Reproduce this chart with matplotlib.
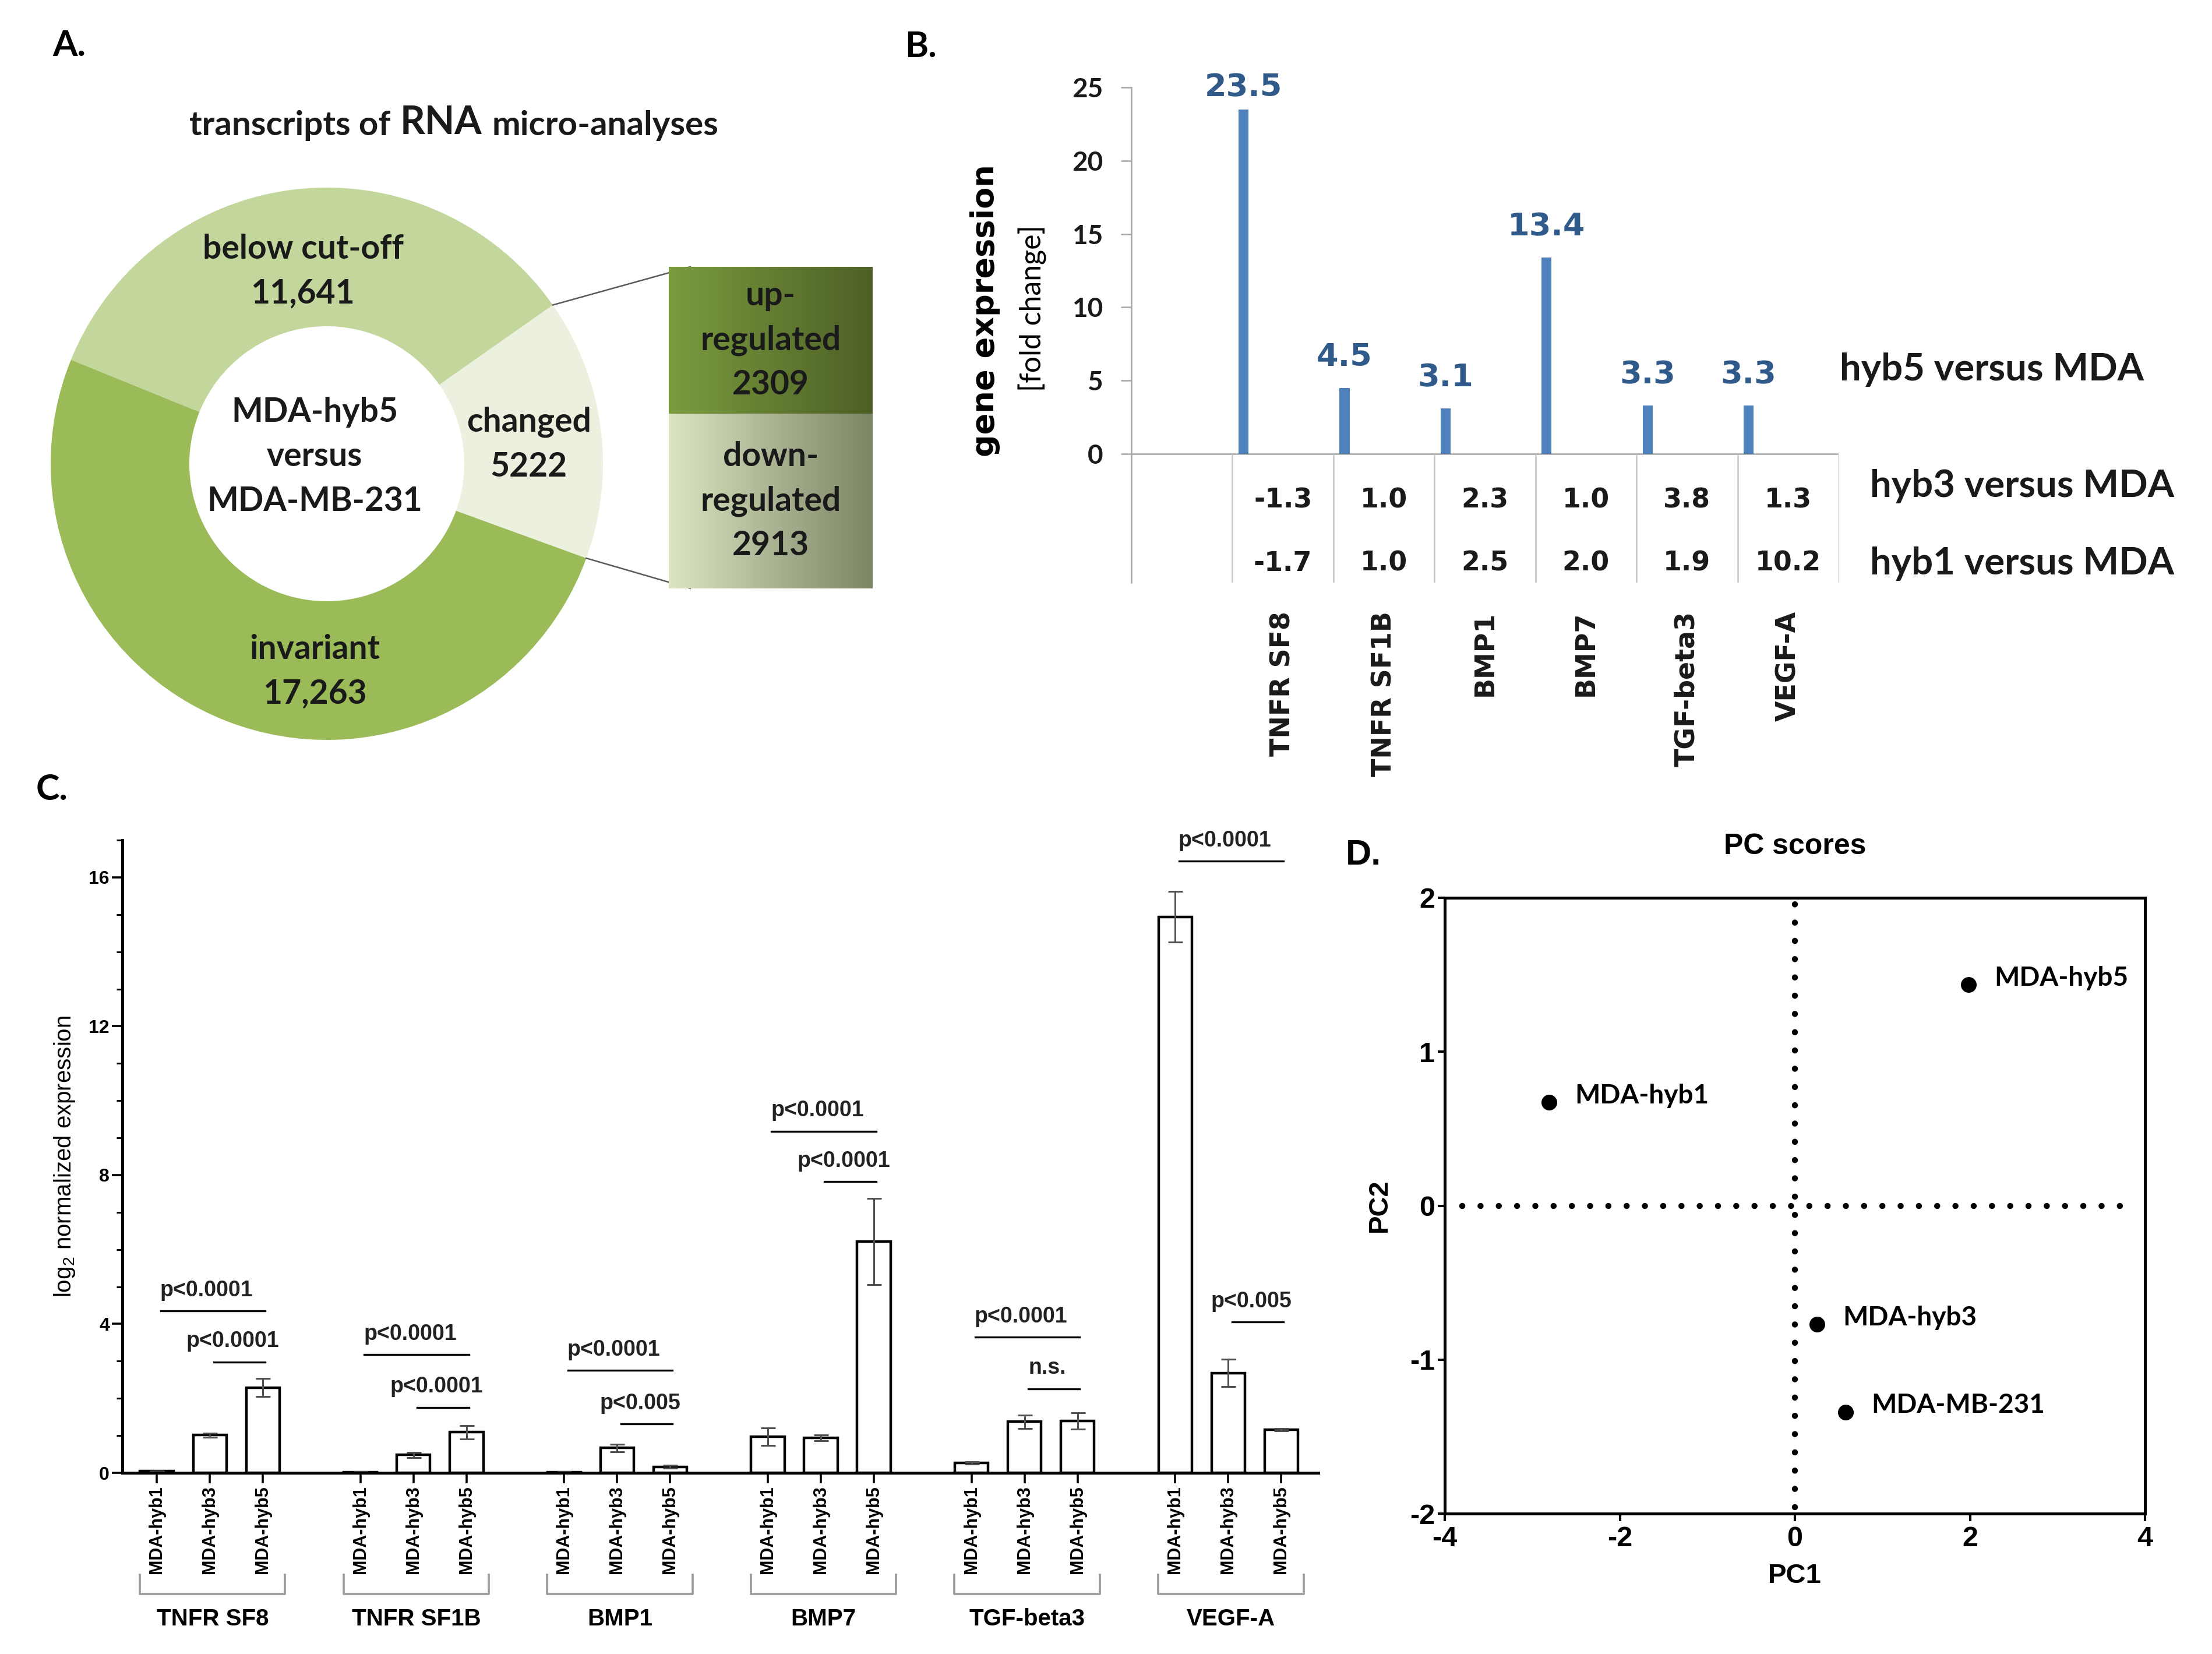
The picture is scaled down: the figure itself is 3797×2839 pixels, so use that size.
import numpy as np
import matplotlib.pyplot as plt
from matplotlib.ticker import MultipleLocator

plt.rcParams['font.family'] = 'Liberation Sans'
plt.rcParams['mathtext.fontset'] = 'custom'
plt.rcParams['mathtext.rm'] = 'Liberation Sans'

# ---------------- data ----------------
# A. donut of transcripts
donut_labels = ['changed', 'below cut-off', 'invariant']
donut_counts = [5222, 11641, 17263]
donut_colors = ['#ebf1de', '#c3d69b', '#9bbb59']
split_labels = ['up-\nregulated', 'down-\nregulated']
split_counts = [2309, 2913]
center_label = 'MDA-hyb5\nversus\nMDA-MB-231'

# B. fold change
genes = ['TNFR SF8', 'TNFR SF1B', 'BMP1', 'BMP7', 'TGF-beta3', 'VEGF-A']
fold_hyb5 = [23.5, 4.5, 3.1, 13.4, 3.3, 3.3]
fold_hyb3 = [-1.3, 1.0, 2.3, 1.0, 3.8, 1.3]
fold_hyb1 = [-1.7, 1.0, 2.5, 2.0, 1.9, 10.2]
row_names = ['hyb5 versus MDA', 'hyb3 versus MDA', 'hyb1 versus MDA']

# C. log2 normalized expression
cell_lines = ['MDA-hyb1', 'MDA-hyb3', 'MDA-hyb5']
expr_hyb1 = [0.04, 0.02, 0.02, 0.97, 0.27, 14.94]
expr_hyb3 = [1.01, 0.48, 0.67, 0.94, 1.37, 2.68]
expr_hyb5 = [2.29, 1.09, 0.16, 6.22, 1.40, 1.16]
err_hyb1 = [0.01, 0.01, 0.01, 0.23, 0.03, 0.68]
err_hyb3 = [0.05, 0.07, 0.10, 0.08, 0.18, 0.37]
err_hyb5 = [0.24, 0.18, 0.04, 1.16, 0.22, 0.03]
sig_gene = [0, 0, 1, 1, 2, 2, 3, 3, 4, 4, 5, 5]
sig_from = [0, 1, 0, 1, 0, 1, 0, 1, 0, 1, 0, 1]
sig_y = [4.35, 2.98, 3.17, 1.76, 2.75, 1.31, 9.18, 7.83, 3.65, 2.26, 16.43, 4.06]
sig_text = ['p<0.0001', 'p<0.0001', 'p<0.0001', 'p<0.0001', 'p<0.0001', 'p<0.005',
            'p<0.0001', 'p<0.0001', 'p<0.0001', 'n.s.', 'p<0.0001', 'p<0.005']

# D. PC scores
pc_names = ['MDA-hyb1', 'MDA-hyb3', 'MDA-hyb5', 'MDA-MB-231']
pc1 = [-2.81, 0.25, 1.985, 0.58]
pc2 = [0.67, -0.77, 1.436, -1.34]

# ---------------- figure ----------------
W, H = 3798, 2839
fig = plt.figure(figsize=(W / 100, H / 100), dpi=100)


def box(x0, y0, x1, y1):
    # pixel box measured from top-left -> figure rect
    return [x0 / W, 1 - y1 / H, (x1 - x0) / W, (y1 - y0) / H]


def fmt_count(c):
    return f'{c:,}' if c >= 10000 else str(c)


LATO = 'Lato'
DJV = 'DejaVu Sans'

for s, x, y, fam in [('A.', 90, 78, LATO), ('B.', 1553, 80, LATO),
                     ('C.', 62, 1355, LATO), ('D.', 2310, 1469, 'Liberation Sans')]:
    fig.text(x / W, 1 - y / H, s, fontsize=44, fontweight='bold', family=fam,
             ha='left', va='center')

# ---------------- A ----------------
ax_a = fig.add_axes(box(0, 0, 1540, 1300))
cx, cy, R, ring = 561, -796, 474, 238
start = -20
ax_a.pie(donut_counts, colors=donut_colors, startangle=start, counterclock=True,
         radius=R, center=(cx, cy), wedgeprops=dict(width=ring, edgecolor='none'))
ax_a.set_xlim(0, 1540)
ax_a.set_ylim(-1300, 0)
ax_a.set_aspect('auto')
ax_a.axis('off')

t1 = ax_a.text(325, -232, 'transcripts of', fontsize=42, family=LATO,
               fontweight='bold', ha='left', va='baseline', color='#1a1a1a')
t2 = ax_a.annotate('RNA', xy=(1, 0), xycoords=t1, xytext=(12, 0),
                   textcoords='offset points', fontsize=48, family=LATO,
                   fontweight='bold', va='bottom', ha='left', color='#1a1a1a')
ax_a.annotate('micro-analyses', xy=(1, 0), xycoords=t2, xytext=(12, 0),
              textcoords='offset points', fontsize=42, family=LATO,
              fontweight='bold', va='bottom', ha='left', color='#1a1a1a')

txt_kw = dict(fontsize=41, family=LATO, fontweight='bold', ha='center',
              va='center', linespacing=1.55, color='#1a1a1a')
label_pos = [(908, 763), (520, 466), (540, 1153)]
for name, c, (x, y) in zip(donut_labels, donut_counts, label_pos):
    ax_a.text(x, -y, f'{name}\n{fmt_count(c)}', **txt_kw)
ax_a.text(540, -784, center_label, **txt_kw)

# zoom boxes for the "changed" slice
bx0, bx1 = 1148, 1498
by = [-458, -710, -1010]
grads = [('#7b9b3e', '#4d6026'), ('#dbe6c3', '#7b8463')]
for k, (lab, c) in enumerate(zip(split_labels, split_counts)):
    c0 = np.array(plt.matplotlib.colors.to_rgb(grads[k][0]))
    c1 = np.array(plt.matplotlib.colors.to_rgb(grads[k][1]))
    t = np.linspace(0, 1, 256)[None, :, None]
    img = c0 + (c1 - c0) * t
    ax_a.imshow(img, extent=(bx0, bx1, by[k + 1], by[k]), aspect='auto', zorder=2)
    ax_a.text((bx0 + bx1) / 2, (by[k] + by[k + 1]) / 2, f'{lab}\n{c}',
              zorder=3, **txt_kw)
ax_a.set_xlim(0, 1540)
ax_a.set_ylim(-1300, 0)

theta_lo = np.deg2rad(start)
theta_hi = np.deg2rad(start + 360 * donut_counts[0] / sum(donut_counts))
ax_a.plot([cx + R * np.cos(theta_hi), 1185], [cy + R * np.sin(theta_hi), by[0]],
          color='#5a5a5a', lw=1.8, zorder=1)
ax_a.plot([cx + R * np.cos(theta_lo), 1185], [cy + R * np.sin(theta_lo), by[2]],
          color='#5a5a5a', lw=1.8, zorder=1)

# ---------------- B ----------------
gray = '#a6a6a6'
ax_b = fig.add_axes(box(1942, 150, 3156, 1000))
ax_b.set_xlim(0, 7)
ax_b.set_ylim(-8.78, 25)
xb = np.arange(len(genes)) + 1.11
ax_b.bar(xb, fold_hyb5, width=0.1, color='#4f81bd', zorder=3)
for x, v in zip(xb, fold_hyb5):
    ax_b.text(x, min(v + 2.1, 25), f'{v:.1f}', ha='center', va='center',
              fontsize=39, family=DJV, fontweight='bold', color='#2f5a8a')
ax_b.axhline(0, color=gray, lw=1.8, zorder=2)
ax_b.vlines(np.arange(1, 8), -8.78, 0, color='#c4c4c4', lw=1.8)
for side in ['top', 'right', 'bottom']:
    ax_b.spines[side].set_visible(False)
ax_b.spines['left'].set_color(gray)
ax_b.spines['left'].set_linewidth(1.8)
ax_b.set_xticks([])
ax_b.set_yticks(range(0, 26, 5))
ax_b.tick_params(axis='y', length=13, width=1.8, color=gray, pad=22, labelsize=33)
for lab in ax_b.get_yticklabels():
    lab.set_family(LATO)
    lab.set_fontweight('bold')
    lab.set_color('#1a1a1a')

xc = np.arange(len(genes)) + 1.5
for row_vals, yrow in [(fold_hyb3, -3.18), (fold_hyb1, -7.47)]:
    for x, v in zip(xc, row_vals):
        ax_b.text(x, yrow, f'{v:.1f}', ha='center', va='center', fontsize=33,
                  family=DJV, fontweight='bold', color='#1a1a1a')
for g, x in zip(genes, xc):
    ax_b.text(x, -10.73, g, rotation=90, ha='center', va='top', fontsize=33,
              family=DJV, fontweight='bold', clip_on=False, color='#1a1a1a')
for name, (x, y) in zip(row_names, [(7.01, 5.76), (7.31, -2.22), (7.31, -7.47)]):
    ax_b.text(x, y, name, ha='left', va='center', fontsize=47, family=LATO,
              fontweight='bold', clip_on=False, color='#1a1a1a')
ax_b.text(-1.45, 9.77, 'gene expression', rotation=90, ha='center', va='center',
          fontsize=39, family=DJV, fontweight='bold', clip_on=False)
ax_b.text(-0.98, 9.93, '[fold change]', rotation=90, ha='center', va='center',
          fontsize=36, family=LATO, clip_on=False)

# ---------------- C ----------------
ax_c = fig.add_axes(box(210, 1442, 2263, 2528))
step = 3.84
ax_c.set_xlim(-0.65, 21.9)
ax_c.set_ylim(0, 17)
g_idx = np.arange(len(genes))
series = [(expr_hyb1, err_hyb1), (expr_hyb3, err_hyb3), (expr_hyb5, err_hyb5)]
for i, (vals, errs) in enumerate(series):
    ax_c.bar(g_idx * step + i, vals, width=0.63, facecolor='white', edgecolor='black',
             lw=3.2, yerr=errs, capsize=9,
             error_kw=dict(ecolor='#505050', elinewidth=2.2, capthick=2.2))
for side in ['top', 'right']:
    ax_c.spines[side].set_visible(False)
for side in ['left', 'bottom']:
    ax_c.spines[side].set_linewidth(3.6)
ax_c.set_yticks([0, 4, 8, 12, 16])
ax_c.yaxis.set_minor_locator(MultipleLocator(1))
tick_x = (g_idx[:, None] * step + np.arange(3)[None, :]).ravel()
ax_c.set_xticks(tick_x)
ax_c.set_xticklabels(cell_lines * len(genes), rotation=90, fontsize=22,
                     fontweight='bold')
ax_c.tick_params(axis='both', which='major', length=13, width=2.6, pad=3)
ax_c.tick_params(axis='y', which='minor', length=7, width=2.2)
ax_c.tick_params(axis='y', labelsize=23)
for lab in ax_c.get_yticklabels():
    lab.set_fontweight('bold')
ax_c.set_ylabel('log$_2$ normalized expression', fontsize=29)
ax_c.yaxis.set_label_coords(-0.038, 0.5)

for g, name in enumerate(genes):
    x0, x1 = g * step - 0.32, g * step + 2.42
    ax_c.plot([x0, x0, x1, x1], [-2.74, -3.26, -3.26, -2.74], color='#9a9a9a',
              lw=2.6, clip_on=False)
    ax_c.text(g * step + 1.05, -3.93, name, ha='center', va='center', fontsize=29,
              fontweight='bold', clip_on=False)

for g, f, y, s in zip(sig_gene, sig_from, sig_y, sig_text):
    xa = g * step + f + 0.07
    xe = g * step + 2.04
    ax_c.plot([xa, xe], [y, y], color='black', lw=2.4, clip_on=False)
    ax_c.text((xa + xe) / 2 - 0.12, y + 0.55, s, ha='center', va='center',
              fontsize=27, fontweight='bold', color='#222222', clip_on=False)

# ---------------- D ----------------
ax_d = fig.add_axes(box(2480, 1541, 3682, 2598))
ax_d.set_xlim(-4, 4)
ax_d.set_ylim(-2, 2)
dots = dict(color='black', lw=7.5, ls=(0, (0.01, 3.0)), dash_capstyle='round')
ax_d.axvline(0, ymin=0.01, ymax=1, **dots)
ax_d.axhline(0, xmin=0.025, xmax=0.985, **dots)
ax_d.scatter(pc1, pc2, s=340, color='black', zorder=3)
for n, x, y in zip(pc_names, pc1, pc2):
    ax_d.annotate(n, (x, y), xytext=(32, 8), textcoords='offset points',
                  ha='left', va='center', fontsize=33, family=LATO,
                  fontweight='bold')
for side in ax_d.spines.values():
    side.set_linewidth(3.6)
ax_d.set_xticks([-4, -2, 0, 2, 4])
ax_d.set_yticks([-2, -1, 0, 1, 2])
ax_d.set_xticklabels(['-4', '-2', '0', '2', '4'])
ax_d.set_yticklabels(['-2', '-1', '0', '1', '2'])
ax_d.tick_params(axis='both', length=9, width=3, labelsize=35)
ax_d.tick_params(axis='x', pad=6)
ax_d.tick_params(axis='y', pad=3)
for lab in ax_d.get_xticklabels() + ax_d.get_yticklabels():
    lab.set_fontweight('bold')
ax_d.set_xlabel('PC1', fontsize=34, fontweight='bold')
ax_d.set_ylabel('PC2', fontsize=34, fontweight='bold')
ax_d.xaxis.set_label_coords(0.5, -0.08)
ax_d.yaxis.set_label_coords(-0.075, 0.5)
ax_d.text(0.5, 1 + 88 / 1057, 'PC scores', transform=ax_d.transAxes, ha='center',
          va='center', fontsize=36, fontweight='bold')

fig.savefig('out.png', dpi=100)
